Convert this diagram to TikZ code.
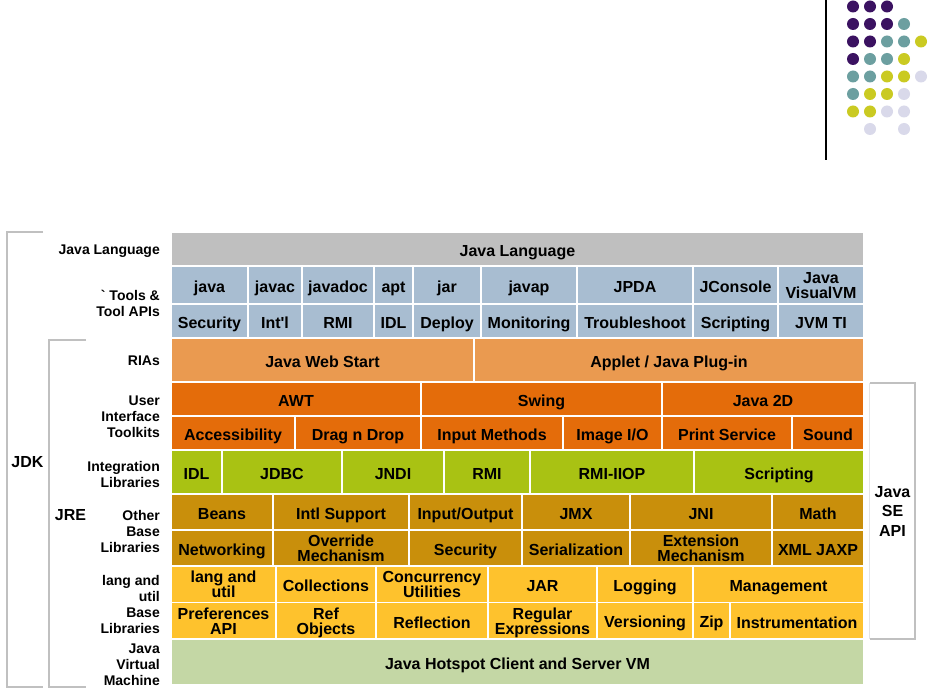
\documentclass[tikz,border=0pt]{standalone}
\usepackage{fontspec}
\setmainfont{Liberation Sans}
\usetikzlibrary{positioning}
\definecolor{langgrey}{HTML}{BFBFBF}
\definecolor{toolblue}{HTML}{A8BDD1}
\definecolor{riaorange}{HTML}{EA9A50}
\definecolor{uiorange}{HTML}{E46C0A}
\definecolor{intgreen}{HTML}{A9C213}
\definecolor{basegold}{HTML}{C98F0B}
\definecolor{utilyellow}{HTML}{FEC22D}
\definecolor{vmgreen}{HTML}{C4D7A5}
\definecolor{bracketgrey}{HTML}{C0C0C0}
\definecolor{faintgrey}{HTML}{E4E4E4}
\definecolor{dotP}{HTML}{3B1261}
\definecolor{dotT}{HTML}{6C9FA0}
\definecolor{dotY}{HTML}{CACA22}
\definecolor{dotL}{HTML}{D9D9EA}
\newcommand{\cellstrut}{\rule[-3.2pt]{0pt}{20.9pt}}
\newcommand{\lblstrut}{\rule[-3.2pt]{0pt}{18.4pt}}
\begin{document}
\begin{tikzpicture}[x=1pt, y=-1pt,
          cell/.style={draw=white, line width=1.5pt, outer sep=0pt, inner xsep=1pt, inner ysep=0pt, align=center, text=black, font=\bfseries\fontsize{16}{15}\selectfont, execute at begin node=\cellstrut},
          twoline/.style={text depth=-6pt},
          wd/.style={minimum width=#1pt},
          langcell/.style={cell, fill=langgrey, minimum height=34pt},
          toolcell/.style={cell, fill=toolblue, minimum height=#1pt},
          toolcell/.default=34,
          riacell/.style={cell, fill=riaorange, minimum height=44pt},
          uicell/.style={cell, fill=uiorange, minimum height=34pt},
          intcell/.style={cell, fill=intgreen, minimum height=44pt},
          basecell/.style={cell, fill=basegold, minimum height=36pt},
          utilcell/.style={cell, fill=utilyellow, minimum height=36.5pt},
          vmcell/.style={cell, fill=vmgreen, minimum height=46pt},
          rowlabel/.style={anchor=east, align=right, inner sep=0pt, font=\bfseries\fontsize{14}{16}\selectfont, execute at begin node=\lblstrut},
          multilabel/.style={rowlabel, text depth=-4.6pt},
          biglabel/.style={align=center, inner sep=0pt, font=\bfseries\fontsize{16}{19.5}\selectfont},
          bracket/.style={draw=bracketgrey, line width=2pt}]
        \fill[white] (0,0) rectangle (934,700);
        \useasboundingbox (0,0) rectangle (934,700);

        \coordinate (bartop) at (826,0);
        \coordinate (barbot) at (826,160);
        \draw [line width=1.5pt] (bartop) -- (barbot);
        \foreach \k/\r/\c in {0/0/dotP, 1/0/dotP, 2/0/dotP,
            0/1/dotP, 1/1/dotP, 2/1/dotP, 3/1/dotT,
            0/2/dotP, 1/2/dotP, 2/2/dotT, 3/2/dotT, 4/2/dotY,
            0/3/dotP, 1/3/dotT, 2/3/dotT, 3/3/dotY,
            0/4/dotT, 1/4/dotT, 2/4/dotY, 3/4/dotY, 4/4/dotL,
            0/5/dotT, 1/5/dotY, 2/5/dotY, 3/5/dotL,
            0/6/dotY, 1/6/dotY, 2/6/dotL, 3/6/dotL,
            1/7/dotL, 3/7/dotL}
          \fill [\c] (853+17*\k, 6.5+17.5*\r) circle (6pt);

        \node [langcell, wd=693, anchor=north west] (lang) at (171,232) {Java Language};

        \node [toolcell=38, wd=77, below right=0pt of lang.south west] (tool1) {java};
        \node [toolcell=38, wd=54, right=0pt of tool1] (tool2) {javac};
        \node [toolcell=38, wd=72, right=0pt of tool2] (tool3) {javadoc};
        \node [toolcell=38, wd=39, right=0pt of tool3] (tool4) {apt};
        \node [toolcell=38, wd=68, right=0pt of tool4] (tool5) {jar};
        \node [toolcell=38, wd=96, right=0pt of tool5] (tool6) {javap};
        \node [toolcell=38, wd=116, right=0pt of tool6] (tool7) {JPDA};
        \node [toolcell=38, wd=85, right=0pt of tool7] (tool8) {JConsole};
        \node [toolcell=38, twoline, wd=86, right=0pt of tool8] (tool9) {Java\\VisualVM};

        \node [toolcell, wd=77, below right=0pt of tool1.south west] (tapi1) {Security};
        \node [toolcell, wd=54, right=0pt of tapi1] (tapi2) {Int\textquotesingle l};
        \node [toolcell, wd=72, right=0pt of tapi2] (tapi3) {RMI};
        \node [toolcell, wd=39, right=0pt of tapi3] (tapi4) {IDL};
        \node [toolcell, wd=68, right=0pt of tapi4] (tapi5) {Deploy};
        \node [toolcell, wd=96, right=0pt of tapi5] (tapi6) {Monitoring};
        \node [toolcell, wd=116, right=0pt of tapi6] (tapi7) {Troubleshoot};
        \node [toolcell, wd=85, right=0pt of tapi7] (tapi8) {Scripting};
        \node [toolcell, wd=86, right=0pt of tapi8] (tapi9) {JVM TI};

        \node [riacell, wd=303, below right=0pt of tapi1.south west] (ria1) {Java Web Start};
        \node [riacell, wd=390, right=0pt of ria1] (ria2) {Applet / Java Plug-in};

        \node [uicell, wd=250, below right=0pt of ria1.south west] (ui1) {AWT};
        \node [uicell, wd=241, right=0pt of ui1] (ui2) {Swing};
        \node [uicell, wd=202, right=0pt of ui2] (ui3) {Java 2D};

        \node [uicell, wd=124, below right=0pt of ui1.south west] (uib1) {Accessibility};
        \node [uicell, wd=126, right=0pt of uib1] (uib2) {Drag n Drop};
        \node [uicell, wd=142, right=0pt of uib2] (uib3) {Input Methods};
        \node [uicell, wd=99, right=0pt of uib3] (uib4) {Image I/O};
        \node [uicell, wd=130, right=0pt of uib4] (uib5) {Print Service};
        \node [uicell, wd=72, right=0pt of uib5] (uib6) {Sound};

        \node [intcell, wd=51, below right=0pt of uib1.south west] (int1) {IDL};
        \node [intcell, wd=120, right=0pt of int1] (int2) {JDBC};
        \node [intcell, wd=102, right=0pt of int2] (int3) {JNDI};
        \node [intcell, wd=86, right=0pt of int3] (int4) {RMI};
        \node [intcell, wd=164, right=0pt of int4] (int5) {RMI-IIOP};
        \node [intcell, wd=170, right=0pt of int5] (int6) {Scripting};

        \node [basecell, wd=102, below right=0pt of int1.south west] (oth1) {Beans};
        \node [basecell, wd=136, right=0pt of oth1] (oth2) {Intl Support};
        \node [basecell, wd=113, right=0pt of oth2] (oth3) {Input/Output};
        \node [basecell, wd=108, right=0pt of oth3] (oth4) {JMX};
        \node [basecell, wd=142, right=0pt of oth4] (oth5) {JNI};
        \node [basecell, wd=92, right=0pt of oth5] (oth6) {Math};

        \node [basecell, wd=102, below right=0pt of oth1.south west] (otb1) {Networking};
        \node [basecell, twoline, wd=136, right=0pt of otb1] (otb2) {Override\\Mechanism};
        \node [basecell, wd=113, right=0pt of otb2] (otb3) {Security};
        \node [basecell, wd=108, right=0pt of otb3] (otb4) {Serialization};
        \node [basecell, twoline, wd=142, right=0pt of otb4] (otb5) {Extension\\Mechanism};
        \node [basecell, wd=92, right=0pt of otb5] (otb6) {XML JAXP};

        \node [utilcell, twoline, wd=105, below right=0pt of otb1.south west] (lu1) {lang and\\util};
        \node [utilcell, wd=100, right=0pt of lu1] (lu2) {Collections};
        \node [utilcell, twoline, wd=112, right=0pt of lu2] (lu3) {Concurrency\\Utilities};
        \node [utilcell, wd=109, right=0pt of lu3] (lu4) {JAR};
        \node [utilcell, wd=96, right=0pt of lu4] (lu5) {Logging};
        \node [utilcell, wd=171, right=0pt of lu5] (lu6) {Management};

        \node [utilcell, twoline, wd=105, below right=0pt of lu1.south west] (lub1) {Preferences\\API};
        \node [utilcell, twoline, wd=100, right=0pt of lub1] (lub2) {Ref\\Objects};
        \node [utilcell, wd=112, right=0pt of lub2] (lub3) {Reflection};
        \node [utilcell, twoline, wd=109, right=0pt of lub3] (lub4) {Regular\\Expressions};
        \node [utilcell, wd=96, right=0pt of lub4] (lub5) {Versioning};
        \node [utilcell, wd=37, right=0pt of lub5] (lub6) {Zip};
        \node [utilcell, wd=134, right=0pt of lub6] (lub7) {Instrumentation};

        \node [vmcell, wd=693, below right=0pt of lub1.south west] (vm) {Java Hotspot Client and Server VM};

        \node [rowlabel] (lb1) at (160,249) {Java Language};
        \node [multilabel] (lb2) at (160,303) {\textasciigrave\ Tools \&\\Tool APIs};
        \node [rowlabel] (lb3) at (160,360) {RIAs};
        \node [multilabel] (lb4) at (160,417) {User\\Interface\\Toolkits};
        \node [multilabel] (lb5) at (160,474) {Integration\\Libraries};
        \node [multilabel] (lb6) at (160,531) {Other\\Base\\Libraries};
        \node [multilabel] (lb7) at (160,604) {lang and\\util\\Base\\Libraries};
        \node [multilabel] (lb8) at (160,665) {Java\\Virtual\\Machine};

        \node [biglabel] (jdk) at (27.5,462) {JDK};
        \node [biglabel] (jre) at (70.5,515) {JRE};
        \node [biglabel, minimum width=45pt, minimum height=256pt] (seapi) at (892.5,511) {Java\\SE\\API};

        \coordinate (jdktop) at (43,232);
        \coordinate (jdkbot) at (43,687);
        \coordinate (jretop) at (86,340);
        \coordinate (jrebot) at (86,687);
        \draw [bracket] (jdktop) -- ++(-36,0) |- (jdkbot);
        \draw [bracket] (jretop) -- ++(-37,0) |- (jrebot);
        \draw [bracket] (seapi.north west) -- (seapi.north east) -- (seapi.south east) -- (seapi.south west);
        \draw [faintgrey, line width=1pt] (seapi.north west) -- (seapi.south west);
      \end{tikzpicture}
\end{document}
